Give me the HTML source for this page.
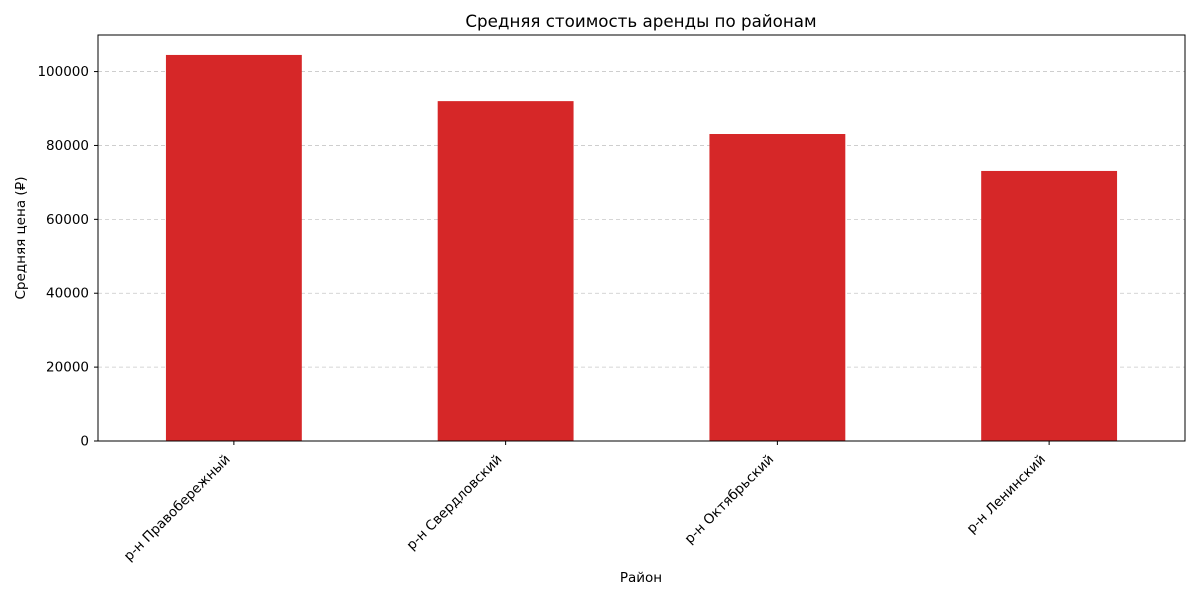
<!DOCTYPE html>
<html><head><meta charset="utf-8"><style>
body{margin:0;background:#fff;}
svg text{font-family:"DejaVu Sans","Liberation Sans",sans-serif;}
</style></head><body>
<svg id="chart" width="1200" height="600" xmlns="http://www.w3.org/2000/svg">
<text x="641" y="27" font-size="16.7" text-anchor="middle">Средняя стоимость аренды по районам</text>
<g id="grid"></g><g id="bars"></g><g id="axes"></g>
<text x="641" y="582" font-size="13.5" text-anchor="middle">Район</text>
<text transform="translate(25,238) rotate(-90)" font-size="13.5" text-anchor="middle">Средняя цена (₽)</text>
</svg>
<script>
const categories=["р-н Правобережный","р-н Свердловский","р-н Октябрьский","р-н Ленинский"];
const values=[104500,92000,83100,73100];
const yTicks=[0,20000,40000,60000,80000,100000];
const L=98,R=1185,T=35,B=441,YMAX=109900;
const NS="http://www.w3.org/2000/svg";
const y=v=>B-(v/YMAX)*(B-T);
const step=(R-L)/categories.length;
const x=i=>L+step*(i+0.5);
function mk(tag,attrs,parent){const e=document.createElementNS(NS,tag);for(const k in attrs)e.setAttribute(k,attrs[k]);parent.appendChild(e);return e;}
const grid=document.getElementById('grid'),bars=document.getElementById('bars'),axes=document.getElementById('axes');
yTicks.forEach(t=>{
 if(t>0){const g=mk('line',{x1:L,x2:R,y1:y(t),y2:y(t),stroke:'#c8c8c8','stroke-dasharray':'4,3','stroke-width':0.8},grid);
 
 }
 const tk=mk('line',{x1:L-4,x2:L,y1:y(t),y2:y(t),stroke:'#000'},axes);
 
 
 const tx=mk('text',{x:L-9,y:y(t)+4.5,'font-size':13.5,'text-anchor':'end'},axes);tx.textContent=t;
 
 
});
categories.forEach((c,i)=>{
 const w=step*0.5;
 const b=mk('rect',{x:x(i)-w/2,y:y(values[i]),width:w,height:B-y(values[i]),fill:'#d62728'},bars);
 
 
 const tk=mk('line',{x1:x(i),x2:x(i),y1:B,y2:B+4,stroke:'#000'},axes);
 
 
 const tx=mk('text',{transform:`translate(${x(i)-3},${B+19}) rotate(-45)`,'font-size':13.5,'text-anchor':'end'},axes);tx.textContent=c;
 
 
});
const fr=mk('rect',{x:L,y:T,width:R-L,height:B-T,fill:'none',stroke:'#000','stroke-width':1},axes);


</script>
</body></html>
